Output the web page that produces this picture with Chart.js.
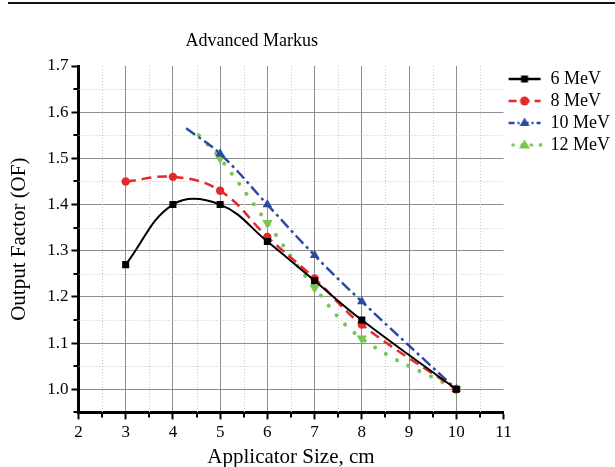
<!DOCTYPE html>
<html>
<head>
<meta charset="utf-8">
<script src="https://cdn.jsdelivr.net/npm/chart.js@4"></script>
<style>
  body { margin: 0; background: #fff; }
  #wrap { position: relative; width: 615px; height: 467px; }
  #rule { position: absolute; left: 8px; right: 0; top: 2px; height: 2px; background: #111; }
</style>
</head>
<body>
<div id="wrap">
  <div id="rule"></div>
  <canvas id="chart"></canvas>
</div>
<script>
"use strict";

var chartTitle = "Advanced Markus";
var xTitle = "Applicator Size, cm";
var yTitle = "Output Factor (OF)";
var seriesNames = ["6 MeV", "8 MeV", "10 MeV", "12 MeV"];

// applicator size (cm) / output factor per energy
var size6 = [3, 4, 5, 6, 7, 8, 10];
var of6 = [1.27, 1.40, 1.40, 1.32, 1.235, 1.15, 1.00];
var size8 = [3, 4, 5, 6, 7, 8, 10];
var of8 = [1.45, 1.46, 1.43, 1.33, 1.24, 1.14, 1.00];
// first point of 10 and 12 MeV is where the drawn curve starts (no marker)
var size10 = [4.28, 5, 6, 7, 8, 10];
var of10 = [1.565, 1.51, 1.40, 1.29, 1.19, 1.00];
var size12 = [4.55, 5, 6, 7, 8, 10];
var of12 = [1.55, 1.50, 1.36, 1.22, 1.11, 1.00];

var xTicks = [2, 3, 4, 5, 6, 7, 8, 9, 10, 11];
var yTicks = [1.0, 1.1, 1.2, 1.3, 1.4, 1.5, 1.6, 1.7];
var xMinor = [2.5, 3.5, 4.5, 5.5, 6.5, 7.5, 8.5, 9.5, 10.5];
var yMinor = [0.95, 1.05, 1.15, 1.25, 1.35, 1.45, 1.55, 1.65];

var FONT = "'Liberation Serif', 'DejaVu Serif', serif";
Chart.defaults.font.family = FONT;
Chart.defaults.color = "#000";

function points(xs, ys) {
  return xs.map(function(x, i) {
    return { x: x, y: ys[i] };
  });
}

function noFirstMarker(r) {
  return function(ctx) {
    return ctx.dataIndex === 0 ? 0 : r;
  };
}

// small line + marker picture used in the legend
function legendSample(color, dash, width, cap, marker) {
  var c = document.createElement("canvas");
  c.width = 34;
  c.height = 16;
  var g = c.getContext("2d");
  g.strokeStyle = color;
  g.fillStyle = color;
  g.lineWidth = width;
  g.lineCap = cap;
  g.setLineDash(dash);
  g.beginPath();
  g.moveTo(1, 8);
  g.lineTo(33, 8);
  g.stroke();
  g.setLineDash([]);
  g.beginPath();
  if (marker === "rect") {
    g.rect(13.5, 4.5, 7, 7);
  } else if (marker === "circle") {
    g.arc(17, 8, 4.5, 0, Math.PI * 2);
  } else if (marker === "up") {
    g.moveTo(17, 2.5);
    g.lineTo(22, 11);
    g.lineTo(12, 11);
    g.closePath();
  } else {
    g.moveTo(17, 13.5);
    g.lineTo(22.5, 4.5);
    g.lineTo(11.5, 4.5);
    g.closePath();
  }
  g.fill();
  return c;
}

var colors = ["#000000", "#e5282a", "#2a4ba0", "#78c552"];
var samples = [
  legendSample(colors[0], [], 2.5, "butt", "rect"),
  legendSample(colors[1], [8, 5], 2.5, "butt", "circle"),
  legendSample(colors[2], [6, 3, 2, 3], 2.5, "butt", "up"),
  legendSample(colors[3], [0.1, 9], 3.5, "round", "down")
];

var minorGrid = {
  id: "minorGrid",
  beforeDatasetsDraw: function(chart) {
    var ctx = chart.ctx;
    var area = chart.chartArea;
    var sx = chart.scales.x;
    var sy = chart.scales.y;
    ctx.save();
    ctx.strokeStyle = "#c8c8c8";
    ctx.lineWidth = 1;
    ctx.setLineDash([1, 2]);
    xMinor.forEach(function(v) {
      var px = Math.round(sx.getPixelForValue(v)) + 0.5;
      ctx.beginPath();
      ctx.moveTo(px, area.top);
      ctx.lineTo(px, area.bottom);
      ctx.stroke();
    });
    yMinor.forEach(function(v) {
      if (v <= sy.min) return;
      var py = Math.round(sy.getPixelForValue(v)) + 0.5;
      ctx.beginPath();
      ctx.moveTo(area.left, py);
      ctx.lineTo(area.right, py);
      ctx.stroke();
    });
    // short minor ticks outside the axes
    ctx.setLineDash([]);
    ctx.strokeStyle = "#000";
    ctx.lineWidth = 2;
    xMinor.forEach(function(v) {
      var px = Math.round(sx.getPixelForValue(v));
      ctx.beginPath();
      ctx.moveTo(px, area.bottom);
      ctx.lineTo(px, area.bottom + 5);
      ctx.stroke();
    });
    yMinor.forEach(function(v) {
      var py = Math.round(sy.getPixelForValue(v));
      ctx.beginPath();
      ctx.moveTo(area.left, py);
      ctx.lineTo(area.left - 5, py);
      ctx.stroke();
    });
    ctx.restore();
  }
};

var titlePlugin = {
  id: "leftTitle",
  afterDraw: function(chart) {
    var ctx = chart.ctx;
    ctx.save();
    ctx.font = "18px " + FONT;
    ctx.fillStyle = "#000";
    ctx.textAlign = "center";
    ctx.textBaseline = "middle";
    ctx.fillText(chartTitle, chart.chartArea.right / 2, chart.chartArea.top - 25);
    ctx.restore();
  }
};

function hideAt(edge) {
  return function(ctx) {
    return ctx.tick && Math.abs(ctx.tick.value - edge) < 1e-9 ? "rgba(0,0,0,0)" : "#8e8e8e";
  };
}

new Chart(document.getElementById("chart"), {
  type: "line",
  data: {
    datasets: [{
      label: seriesNames[0],
      data: points(size6, of6),
      borderColor: colors[0],
      backgroundColor: colors[0],
      borderWidth: 2,
      tension: 0.4,
      pointStyle: "rect",
      pointRadius: 5,
      pointBorderWidth: 0
    }, {
      label: seriesNames[1],
      data: points(size8, of8),
      borderColor: colors[1],
      backgroundColor: colors[1],
      borderWidth: 2.5,
      borderDash: [10, 6],
      tension: 0.4,
      pointStyle: "circle",
      pointRadius: 4.2,
      pointBorderWidth: 0
    }, {
      label: seriesNames[2],
      data: points(size10, of10),
      borderColor: colors[2],
      backgroundColor: colors[2],
      borderWidth: 2.5,
      borderDash: [11, 4, 3, 4],
      tension: 0.4,
      pointStyle: "triangle",
      pointRadius: noFirstMarker(5.5),
      pointBorderWidth: 0
    }, {
      label: seriesNames[3],
      data: points(size12, of12),
      borderColor: colors[3],
      backgroundColor: colors[3],
      borderWidth: 4,
      borderDash: [0.1, 12.5],
      borderCapStyle: "round",
      tension: 0.4,
      pointStyle: "triangle",
      pointRotation: 180,
      pointRadius: noFirstMarker(6),
      pointBorderWidth: 0
    }]
  },
  options: {
    responsive: true,
    maintainAspectRatio: false,
    animation: false,
    layout: {
      padding: { top: 66, left: 0, right: -5, bottom: -5 }
    },
    scales: {
      x: {
        type: "linear",
        min: 2,
        max: 11,
        afterBuildTicks: function(scale) {
          scale.ticks = xTicks.map(function(v) { return { value: v }; });
        },
        ticks: {
          font: { size: 17 },
          color: "#000",
          padding: 3,
          maxRotation: 0,
          autoSkip: false,
          callback: function(v) { return String(v); }
        },
        grid: {
          color: hideAt(11),
          lineWidth: 1,
          tickColor: "#000",
          tickWidth: 2,
          tickLength: 7
        },
        border: { color: "#000", width: 3 },
        title: {
          display: true,
          text: xTitle,
          color: "#000",
          font: { size: 21 },
          padding: { top: -1, bottom: 2 }
        }
      },
      y: {
        type: "linear",
        min: 0.95,
        max: 1.7,
        afterBuildTicks: function(scale) {
          scale.ticks = yTicks.map(function(v) { return { value: v }; });
        },
        ticks: {
          font: { size: 17 },
          color: "#000",
          padding: 3,
          autoSkip: false,
          callback: function(v) { return v.toFixed(1); }
        },
        grid: {
          color: hideAt(1.7),
          lineWidth: 1,
          tickColor: "#000",
          tickWidth: 2,
          tickLength: 7
        },
        border: { color: "#000", width: 3 },
        title: {
          display: true,
          text: yTitle,
          color: "#000",
          font: { size: 21 },
          padding: { top: 7, bottom: 12 }
        }
      }
    },
    plugins: {
      title: { display: false },
      tooltip: { enabled: false },
      legend: {
        position: "right",
        align: "start",
        labels: {
          usePointStyle: true,
          pointStyleWidth: 34,
          padding: 4,
          color: "#000",
          font: { size: 18 },
          generateLabels: function(chart) {
            var items = Chart.defaults.plugins.legend.labels.generateLabels(chart);
            items.forEach(function(item) {
              item.pointStyle = samples[item.datasetIndex];
            });
            return items;
          }
        }
      }
    }
  },
  plugins: [minorGrid, titlePlugin]
});
</script>
</body>
</html>
